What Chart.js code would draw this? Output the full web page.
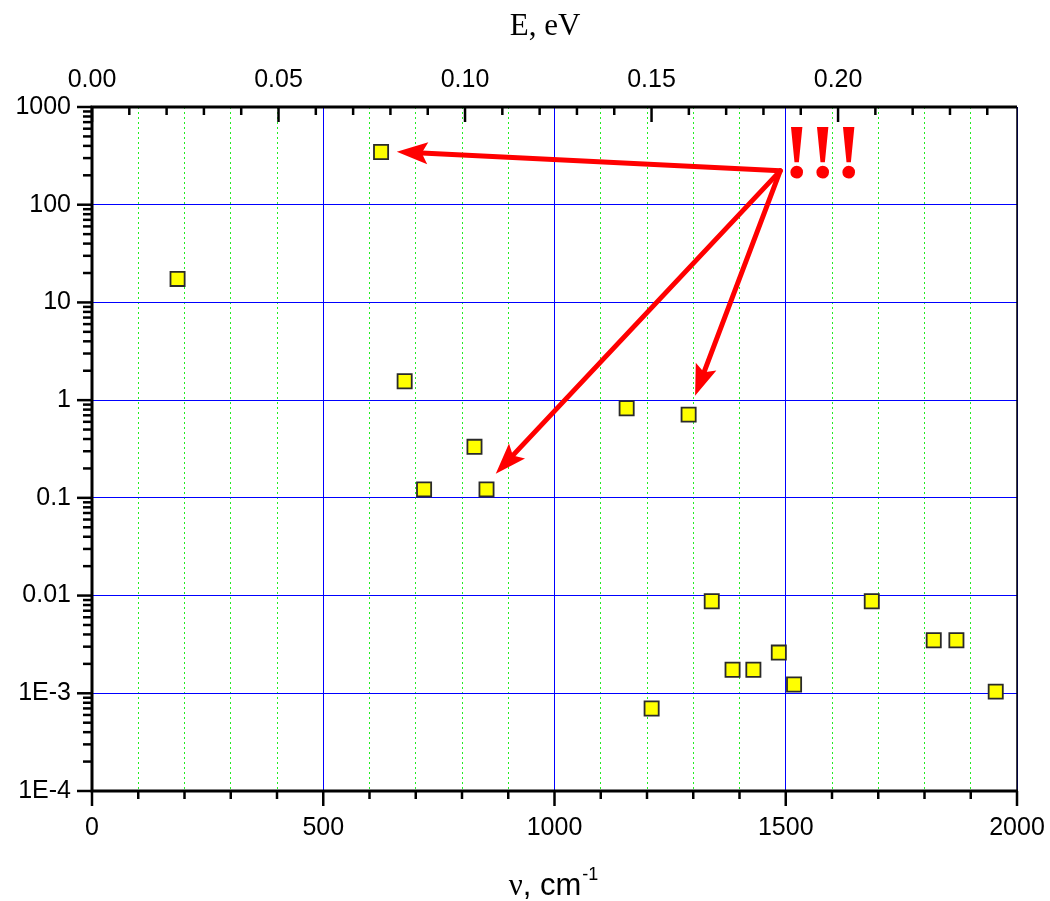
<!DOCTYPE html>
<html lang="en">
<head>
<meta charset="UTF-8">
<title>Scatter: value vs wavenumber</title>
<script src="https://cdn.jsdelivr.net/npm/chart.js"></script>
<style>
  html, body { margin: 0; padding: 0; background: #fff; }
  #wrap { width: 1050px; height: 901px; }
</style>
</head>
<body>
<div id="wrap"><canvas id="chart"></canvas></div>
<script>
// data
const nu = [185, 625, 676, 718, 827, 853, 1156, 1290, 1340, 1210, 1385, 1430, 1485, 1518, 1686, 1820, 1869, 1954];
const values = [17.4, 346, 1.56, 0.122, 0.333, 0.122, 0.826, 0.711, 0.00875, 0.000698, 0.00174, 0.00174, 0.00261, 0.00123, 0.00875, 0.00349, 0.00349, 0.00104];

const xTickValues = [0, 500, 1000, 1500, 2000];
const yTickValues = [1e-4, 1e-3, 0.01, 0.1, 1, 10, 100, 1000];
const yTickLabels = ['1E-4', '1E-3', '0.01', '0.1', '1', '10', '100', '1000'];
const eTickValues = [0, 0.05, 0.10, 0.15, 0.20];
const eTickLabels = ['0.00', '0.05', '0.10', '0.15', '0.20'];

// annotation: arrows from one spot to three points, plus "!!!"
const arrowFrom = { x: 1488, y: 222 };
const arrowTargets = [{ x: 659, y: 349 }, { x: 1304, y: 1.11 }, { x: 873, y: 0.177 }];
const marksText = '!!!';
const marksAt = { x: 1580, y: 188 };

const EV_PER_CM = 1.23984e-4;
const X_MAX = 2000;

const tickFont = { family: '"Liberation Sans", Arial, sans-serif', size: 25 };

const decor = {
  id: 'decor',
  afterDatasetsDraw(chart) {
    const { ctx, chartArea: a, scales } = chart;
    const xs = scales.x, ys = scales.y, es = scales.x2;
    const line = (x0, y0, x1, y1) => { ctx.beginPath(); ctx.moveTo(x0, y0); ctx.lineTo(x1, y1); ctx.stroke(); };
    ctx.save();

    // arrows
    ctx.strokeStyle = '#ff0000';
    ctx.fillStyle = '#ff0000';
    ctx.lineWidth = 5;
    ctx.lineCap = 'round';
    const fx = xs.getPixelForValue(arrowFrom.x), fy = ys.getPixelForValue(arrowFrom.y);
    arrowTargets.forEach(t => {
      const tx = xs.getPixelForValue(t.x), ty = ys.getPixelForValue(t.y);
      const ang = Math.atan2(ty - fy, tx - fx);
      const c = Math.cos(ang), s = Math.sin(ang);
      const L = 31, W = 11, N = 6;
      line(fx, fy, tx - (L - N) * c, ty - (L - N) * s);
      const bx = tx - L * c, by = ty - L * s;
      ctx.beginPath();
      ctx.moveTo(tx, ty);
      ctx.lineTo(bx - W * s, by + W * c);
      ctx.lineTo(tx - (L - N) * c, ty - (L - N) * s);
      ctx.lineTo(bx + W * s, by - W * c);
      ctx.closePath();
      ctx.fill();
    });
    ctx.font = 'bold 78px "Liberation Serif", "Times New Roman", serif';
    ctx.textAlign = 'center';
    ctx.textBaseline = 'alphabetic';
    ctx.fillText(marksText, xs.getPixelForValue(marksAt.x), ys.getPixelForValue(marksAt.y));

    // tick marks
    ctx.strokeStyle = '#000';
    ctx.lineCap = 'butt';
    ctx.lineWidth = 2.5;
    for (let v = 0; v <= X_MAX; v += 100) {
      const px = xs.getPixelForValue(v);
      line(px, a.bottom, px, a.bottom + (v % 500 === 0 ? 15 : 8));
    }
    for (let k = 0; k * 0.01 <= X_MAX * EV_PER_CM; k++) {
      const px = es.getPixelForValue(k * 0.01);
      line(px, a.top, px, a.top + (k % 5 === 0 ? 15 : 8));
    }
    for (let d = -4; d <= 3; d++) {
      for (let m = 1; m <= 9; m++) {
        const v = m * Math.pow(10, d);
        if (v > 1000 * 1.0001) break;
        const py = ys.getPixelForValue(v);
        line(a.left - (m === 1 ? 15 : 9), py, a.left, py);
      }
    }

    // frame
    ctx.lineWidth = 3;
    ctx.beginPath();
    ctx.moveTo(a.right, a.top);
    ctx.lineTo(a.left, a.top);
    ctx.lineTo(a.left, a.bottom);
    ctx.lineTo(a.right + 1, a.bottom);
    ctx.stroke();
    ctx.lineWidth = 1.5;
    line(a.right, a.top, a.right, a.bottom);

    // axis titles
    ctx.fillStyle = '#000';
    ctx.textAlign = 'center';
    ctx.font = '31px "Liberation Serif", "Times New Roman", serif';
    ctx.fillText('E, eV', 545, 35);

    const nuFont = '31px "Liberation Serif", "Times New Roman", serif';
    const cmFont = '31px "Liberation Sans", Arial, sans-serif';
    const supFont = '18px "Liberation Sans", Arial, sans-serif';
    ctx.textAlign = 'left';
    ctx.font = nuFont; const w1 = ctx.measureText('\u03bd').width;
    ctx.font = cmFont; const w2 = ctx.measureText(', cm').width;
    ctx.font = supFont; const w3 = ctx.measureText('-1').width;
    let tx = 553 - (w1 + w2 + w3) / 2;
    const base = 895;
    ctx.font = nuFont; ctx.fillText('\u03bd', tx, base); tx += w1;
    ctx.font = cmFont; ctx.fillText(', cm', tx, base); tx += w2;
    ctx.font = supFont; ctx.fillText('-1', tx + 1, base - 15);

    ctx.restore();
  }
};

new Chart(document.getElementById('chart'), {
  type: 'scatter',
  data: {
    datasets: [{
      data: nu.map((x, i) => ({ x: x, y: values[i] })),
      pointStyle: 'rect',
      pointRadius: 10,
      pointHoverRadius: 10,
      backgroundColor: '#ffff00',
      borderColor: '#2a2a2a',
      borderWidth: 1.8
    }]
  },
  options: {
    responsive: true,
    maintainAspectRatio: false,
    animation: false,
    events: [],
    layout: { padding: { left: 0, right: 33, top: 0, bottom: 0 } },
    plugins: { legend: { display: false }, tooltip: { enabled: false } },
    scales: {
      x: {
        type: 'linear', position: 'bottom', min: 0, max: X_MAX,
        afterBuildTicks: s => { const t = []; for (let v = 0; v <= X_MAX; v += 100) t.push({ value: v }); s.ticks = t; },
        afterFit: s => { s.height = 110; },
        ticks: {
          autoSkip: false, maxRotation: 0, padding: 5, color: '#000', font: tickFont,
          callback: v => xTickValues.includes(v) ? String(v) : ''
        },
        grid: {
          drawTicks: true, tickLength: 17, tickColor: 'rgba(0,0,0,0)', lineWidth: 1,
          color: c => (c.tick && c.tick.value % 500 === 0) ? '#0000ff' : '#22ee22'
        },
        border: { display: false, dash: c => (c.tick && c.tick.value % 500 === 0) ? [] : [2, 3] }
      },
      x2: {
        type: 'linear', position: 'top', min: 0, max: X_MAX * EV_PER_CM,
        afterBuildTicks: s => { s.ticks = eTickValues.map(v => ({ value: v })); },
        afterFit: s => { s.height = 107; },
        ticks: {
          autoSkip: false, maxRotation: 0, padding: 4, color: '#000', font: tickFont,
          callback: (v, i) => eTickLabels[i]
        },
        grid: { drawOnChartArea: false, drawTicks: true, tickLength: 8, tickColor: 'rgba(0,0,0,0)', color: 'rgba(0,0,0,0)' },
        border: { display: false }
      },
      y: {
        type: 'logarithmic', position: 'left', min: 1e-4, max: 1000,
        afterBuildTicks: s => { s.ticks = yTickValues.map(v => ({ value: v })); },
        afterFit: s => { s.width = 92; },
        ticks: {
          autoSkip: false, padding: 21, color: '#000', font: tickFont,
          callback: (v, i) => yTickLabels[i]
        },
        grid: { drawTicks: false, color: '#0000ff', lineWidth: 1 },
        border: { display: false }
      }
    }
  },
  plugins: [decor]
});
</script>
</body>
</html>
